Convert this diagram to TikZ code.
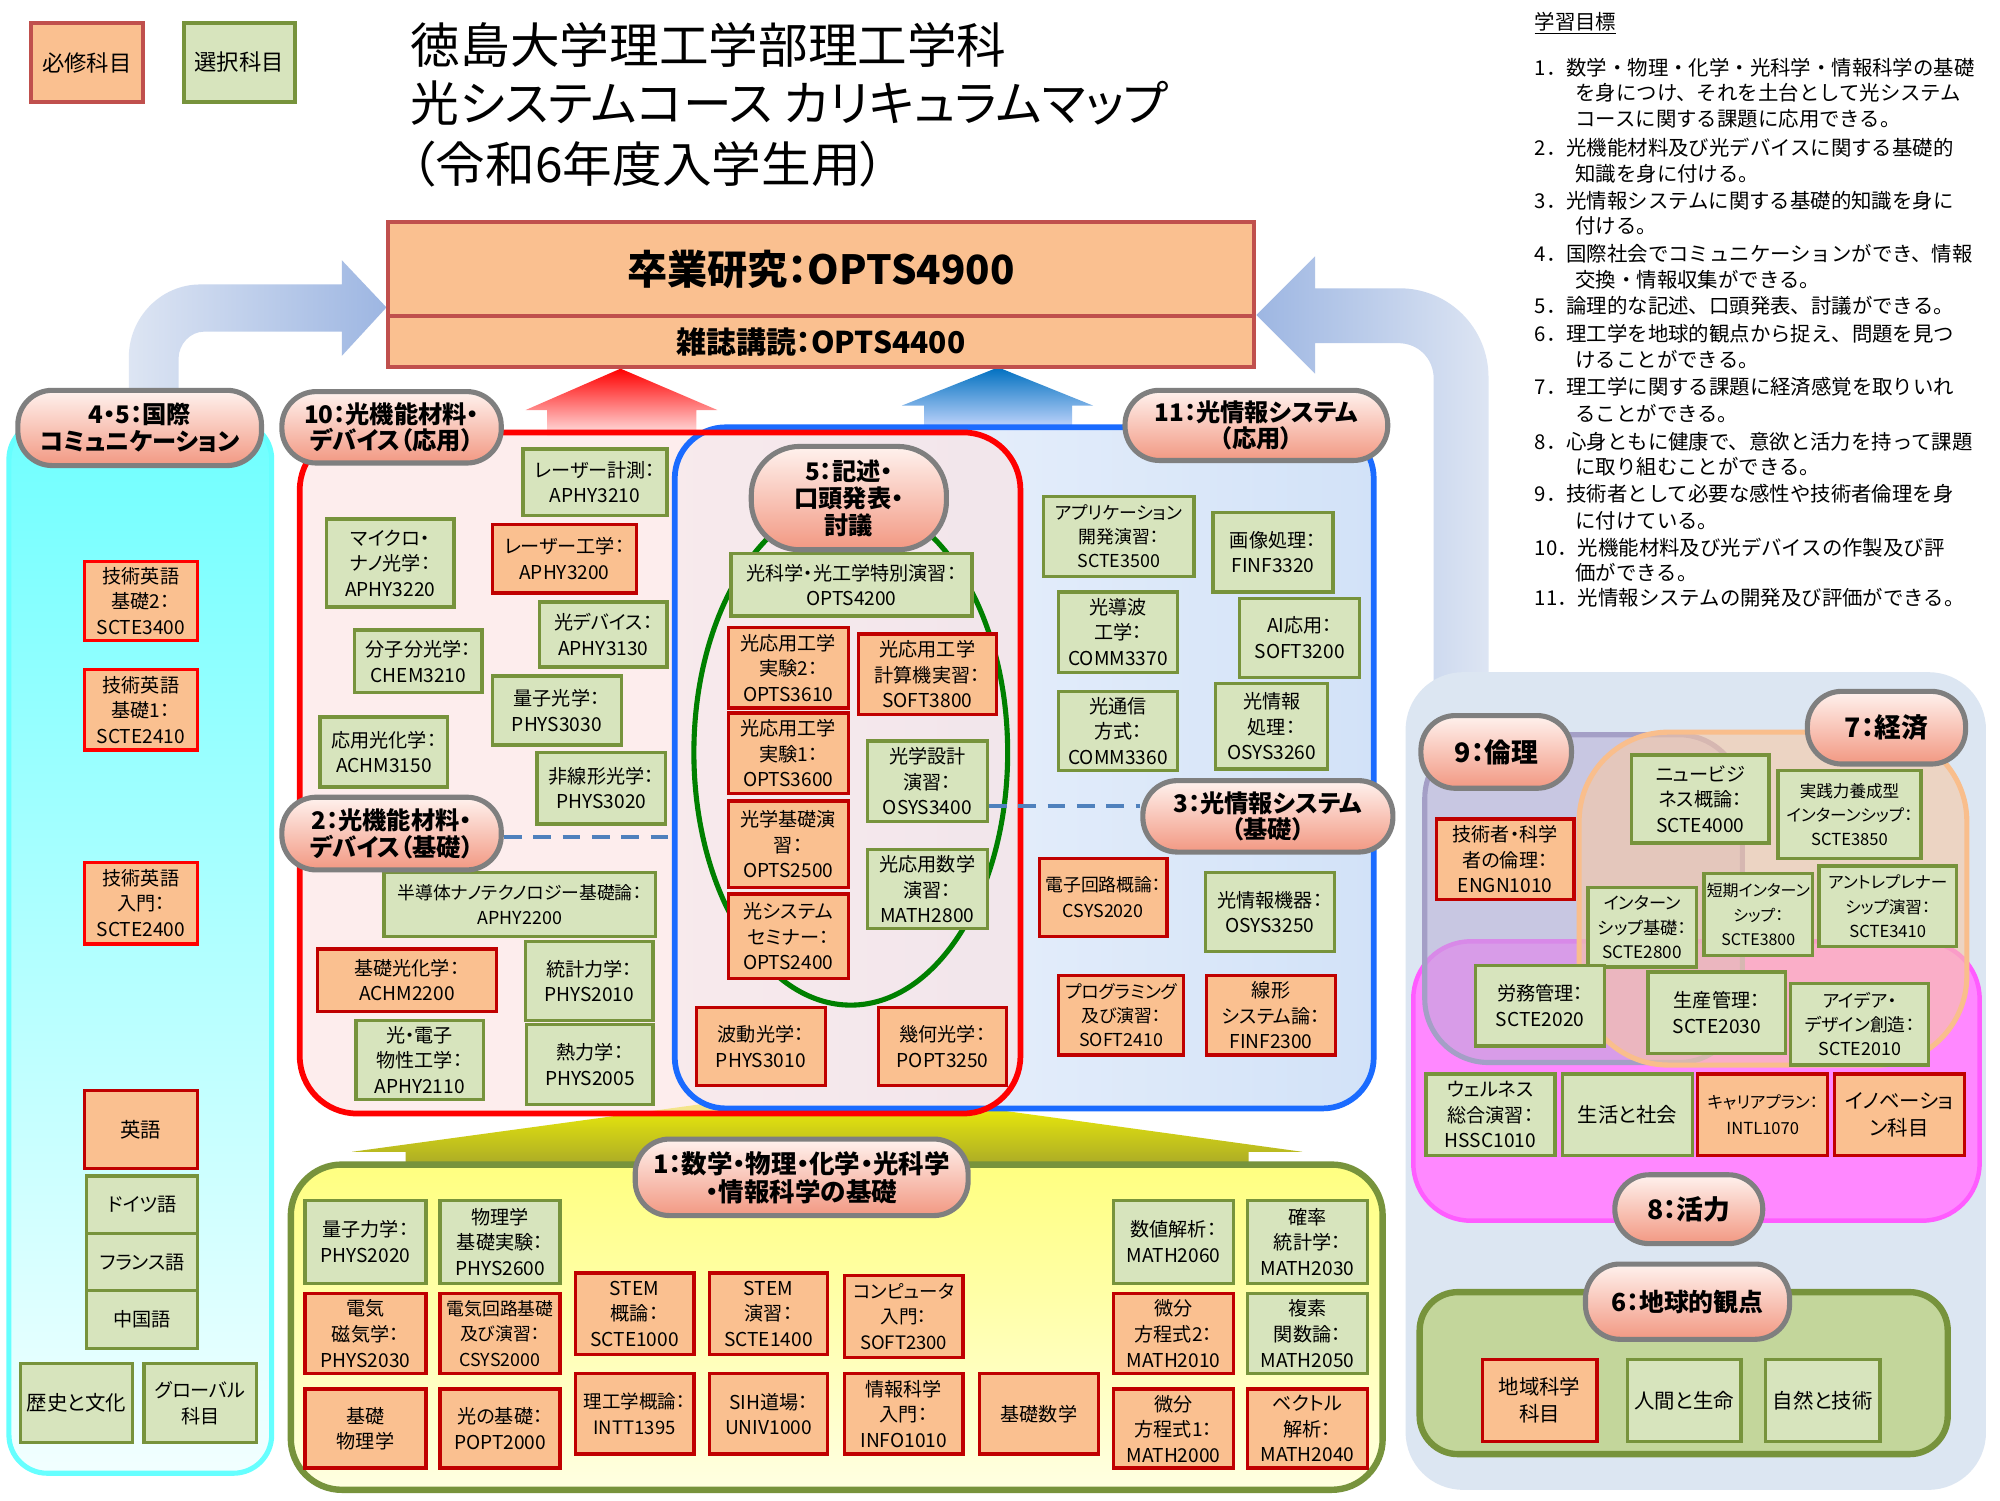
\documentclass[tikz,border=0pt]{standalone}
\usepackage{fontspec}
\usepackage{graphicx}
\setmainfont{Noto Sans CJK JP}[RawFeature=+palt]
\newfontfamily\gfont{Noto Sans CJK JP}
\newcommand{\fsz}[2]{\fontsize{#1pt}{#2pt}\selectfont}
\definecolor{arrL}{HTML}{DDE5F3}
\definecolor{arrR}{HTML}{9DB6E2}
\definecolor{redlt}{HTML}{FFE6E6}
\definecolor{blueup}{HTML}{0070C0}
\definecolor{bluelt}{HTML}{CCDAFF}
\definecolor{olivey}{HTML}{A4A42A}
\definecolor{grayreg}{HTML}{DCE6F2}
\definecolor{magfill}{HTML}{FF88FF}
\definecolor{magbd}{HTML}{FF5CFF}
\definecolor{purfill}{HTML}{B9AED6}
\definecolor{purbd}{HTML}{A49FC6}
\definecolor{orfill}{HTML}{F8C8A4}
\definecolor{orbd}{HTML}{F9BE8C}
\definecolor{gsixfill}{HTML}{C3D69B}
\definecolor{cyanbd}{HTML}{66FFFF}
\definecolor{cyantop}{HTML}{70FFFF}
\definecolor{cyanbot}{HTML}{F2FFFF}
\definecolor{ytop}{HTML}{FFFF80}
\definecolor{ybot}{HTML}{FFFFE2}
\definecolor{bluebd}{HTML}{1A6BFF}
\definecolor{blueL}{HTML}{F2F6FC}
\definecolor{blueR}{HTML}{D2E2F8}
\definecolor{redfill}{HTML}{FCE2E2}
\definecolor{ellgreen}{HTML}{008000}
\definecolor{pillbd}{HTML}{7F7F7F}
\definecolor{pilltop}{HTML}{FFF2EE}
\definecolor{pillbot}{HTML}{F29882}
\definecolor{reqfill}{HTML}{FAC090}
\definecolor{reqdr}{HTML}{C00000}
\definecolor{legbd}{HTML}{C0504D}
\definecolor{optfill}{HTML}{D7E4BD}
\definecolor{optbd}{HTML}{77933C}
\definecolor{dashc}{HTML}{4F81BD}
\tikzset{
  cReq/.style={draw=reqdr, fill=reqfill, line width=2.6pt, align=center, inner sep=0pt, font=\fsz{15}{20}},
  cReqB/.style={cReq, draw=red},
  cOpt/.style={draw=optbd, fill=optfill, line width=2.6pt, align=center, inner sep=0pt, font=\fsz{15}{20}},
  cPill/.style={draw=pillbd, line width=4pt, rounded corners=27pt, top color=pilltop, bottom color=pillbot, align=center, inner sep=0pt, font=\bfseries\fsz{19}{21}},
  cTop/.style={draw=legbd, fill=reqfill, line width=3pt, inner sep=0pt},
  cLegR/.style={draw=legbd, fill=reqfill, line width=3pt, inner sep=0pt, font=\fsz{17.5}{20}},
  cLegO/.style={draw=optbd, fill=optfill, line width=3pt, inner sep=0pt, font=\fsz{17.5}{20}},
  cGoal/.style={anchor=west, inner sep=0pt, font=\gfont\fsz{16}{20}},
  cDash/.style={draw=dashc, line width=3pt, dash pattern=on 14pt off 9pt}
}
\newcommand{\cbx}[7]{\node[#6, minimum width={(#4)-(#2)}, minimum height={(#5)-(#3)}] (#1) at ({((#2)+(#4))/2},{((#3)+(#5))/2}) {#7};}
\newcommand{\gl}[4]{\node[cGoal] (#1) at (#2,#3) {#4};}
\begin{document}
\begin{tikzpicture}[x=1pt,y=-1pt]
\useasboundingbox (0,0) rectangle (1568,1176);
\fill[white] (0,0) rectangle (1568,1176);

% curved arrows
\shade[left color=arrL, right color=arrR] (101,320) -- (101,280) .. controls (101,249) and (126,223) .. (157,223) -- (268,223) -- (268,204) -- (303,241) -- (268,279) -- (268,260) -- (160,260) .. controls (149,260) and (140,270) .. (140,281) -- (140,320) -- cycle;
\shade[left color=arrR, right color=arrL] (985,247) -- (1031,201) -- (1031,226) -- (1097,226) .. controls (1136,226) and (1167,257) .. (1167,296) -- (1167,540) -- (1124,540) -- (1124,297) .. controls (1124,281) and (1112,269) .. (1096,269) -- (1031,269) -- (1031,293) -- cycle;

% up arrows
\shade[top color=red, bottom color=redlt] (486.5,289) -- (562.5,321.5) -- (546,321.5) -- (546,342) -- (429,342) -- (429,321.5) -- (412,321.5) -- cycle;
\shade[top color=blueup, bottom color=bluelt] (782.5,288) -- (857,318) -- (840.5,318) -- (840.5,338) -- (724.5,338) -- (724.5,318) -- (707,318) -- cycle;
\shade[top color=yellow, bottom color=olivey] (650,852) -- (1021,903) -- (979,903) -- (979,918) -- (318,918) -- (318,903) -- (276,903) -- cycle;

% right region
\fill[grayreg, rounded corners=45pt] (1102,527) rectangle (1557,1168);
\draw[draw=magbd, line width=3.5pt, fill=magfill, rounded corners=45pt] (1108,738) rectangle (1552,957);
\draw[draw=purbd, line width=4pt, fill=purfill, fill opacity=0.55, rounded corners=50pt] (1117,576) rectangle (1366,833);
\draw[draw=orbd, line width=4pt, fill=orfill, fill opacity=0.6, rounded corners=70pt] (1238,574) rectangle (1542,835);
\draw[draw=optbd, line width=5pt, fill=gsixfill, rounded corners=30pt] (1113,1013) rectangle (1527,1140);

% cyan column
\draw[draw=cyanbd, line width=4pt, top color=cyantop, bottom color=cyanbot, rounded corners=30pt] (7,330) rectangle (213,1155);

% yellow region
\draw[draw=optbd, line width=5pt, top color=ytop, bottom color=ybot, rounded corners=40pt] (228,913) rectangle (1084,1168);

% blue and red regions
\shade[left color=blueL, right color=blueR, rounded corners=40pt] (529,335) rectangle (1077,869);
\fill[redfill, fill opacity=0.6, rounded corners=45pt] (235,339) rectangle (800,873);
\draw[draw=bluebd, line width=4.5pt, rounded corners=40pt] (529,335) rectangle (1077,869);
\draw[draw=red, line width=4.5pt, rounded corners=45pt] (235,339) rectangle (800,873);
\draw[draw=ellgreen, line width=4pt] (667,590) ellipse [x radius=123, y radius=198];

% legend
\cbx{legreq}{24}{18}{112}{80}{cLegR}{必修科目}
\cbx{legopt}{144}{18}{231}{80}{cLegO}{選択科目}

% title
\node[anchor=west, inner sep=0pt] (t1) at (322,35) {\resizebox{467pt}{\height}{\fsz{38}{40}徳島大学理工学部理工学科}};
\node[anchor=west, inner sep=0pt] (t2) at (322,81) {\resizebox{594pt}{\height}{\fsz{38}{40}光システムコース カリキュラムマップ}};
\node[anchor=west, inner sep=0pt] (t3) at (322,129) {\resizebox{372pt}{\height}{\fsz{38}{40}（令和6年度入学生用）}};

% goals
\node[anchor=west, inner sep=0pt, font=\gfont\fsz{16}{18}] (gh) at (1203,18) {\underline{学習目標}};
\gl{g1}{1203}{53}{1．数学・物理・化学・光科学・情報科学の基礎}
\gl{g2}{1235}{73}{を身につけ、それを土台として光システム}
\gl{g3}{1235}{93}{コースに関する課題に応用できる。}
\gl{g4}{1203}{116}{2．光機能材料及び光デバイスに関する基礎的}
\gl{g5}{1235}{136}{知識を身に付ける。}
\gl{g6}{1203}{157}{3．光情報システムに関する基礎的知識を身に}
\gl{g7}{1235}{177}{付ける。}
\gl{g8}{1203}{199}{4．国際社会でコミュニケーションができ、情報}
\gl{g9}{1235}{219}{交換・情報収集ができる。}
\gl{g10}{1203}{240}{5．論理的な記述、口頭発表、討議ができる。}
\gl{g11}{1203}{262}{6．理工学を地球的観点から捉え、問題を見つ}
\gl{g12}{1235}{282}{けることができる。}
\gl{g13}{1203}{303}{7．理工学に関する課題に経済感覚を取りいれ}
\gl{g14}{1235}{324}{ることができる。}
\gl{g15}{1203}{346}{8．心身ともに健康で、意欲と活力を持って課題}
\gl{g16}{1235}{366}{に取り組むことができる。}
\gl{g17}{1203}{387}{9．技術者として必要な感性や技術者倫理を身}
\gl{g18}{1235}{408}{に付けている。}
\gl{g19}{1203}{429}{10．光機能材料及び光デバイスの作製及び評}
\gl{g20}{1235}{449}{価ができる。}
\gl{g21}{1203}{469}{11．光情報システムの開発及び評価ができる。}

% top boxes
\cbx{thesis}{304}{174}{983}{248}{cTop, font=\bfseries\fsz{31.5}{34}}{卒業研究：OPTS4900}
\cbx{journal}{304}{248}{983}{288}{cTop, font=\bfseries\fsz{23.5}{26}}{雑誌講読：OPTS4400}

\coordinate (dL) at (529,656);
\coordinate (dR) at (775,632);

% left column
\cbx{te2}{66}{440}{155}{502}{cReqB}{技術英語\\基礎2：\\SCTE3400}
\cbx{te1}{66}{525}{155}{588}{cReqB}{技術英語\\基礎1：\\SCTE2410}
\cbx{te0}{66}{676}{155}{740}{cReqB}{技術英語\\入門：\\SCTE2400}
\cbx{eng}{66}{855}{155}{916}{cReq, font=\fsz{16}{20}}{英語}
\cbx{ger}{68}{922}{155}{967}{cOpt}{ドイツ語}
\cbx{fra}{68}{967}{155}{1012}{cOpt}{フランス語}
\cbx{chn}{68}{1012}{155}{1057}{cOpt}{中国語}
\cbx{his}{16}{1069}{104}{1131}{cOpt, font=\fsz{16}{20}}{歴史と文化}
\cbx{glo}{113}{1069}{201}{1131}{cOpt}{グローバル\\科目}

% region 10 / 2
\cbx{aphy3210}{410}{352}{523}{404}{cOpt}{レーザー計測：\\APHY3210}
\cbx{aphy3220}{256}{407}{356}{476}{cOpt}{マイクロ・\\ナノ光学：\\APHY3220}
\cbx{aphy3200}{386}{411}{499}{465}{cReq}{レーザー工学：\\APHY3200}
\cbx{aphy3130}{423}{472}{523}{523}{cOpt}{光デバイス：\\APHY3130}
\cbx{chem3210}{278}{494}{378}{543}{cOpt}{分子分光学：\\CHEM3210}
\cbx{phys3030}{386}{530}{487}{584}{cOpt}{量子光学：\\PHYS3030}
\cbx{achm3150}{251}{562}{351}{617}{cOpt}{応用光化学：\\ACHM3150}
\cbx{phys3020}{421}{590}{522}{646}{cOpt}{非線形光学：\\PHYS3020}
\cbx{aphy2200}{301}{684}{514}{734}{cOpt, font=\fsz{14}{20}}{半導体ナノテクノロジー基礎論：\\APHY2200}
\cbx{achm2200}{249}{744}{389}{793}{cReq}{基礎光化学：\\ACHM2200}
\cbx{phys2010}{412}{738}{512}{800}{cOpt}{統計力学：\\PHYS2010}
\cbx{aphy2110}{279}{800}{379}{862}{cOpt}{光・電子\\物性工学：\\APHY2110}
\cbx{phys2005}{413}{803}{512}{866}{cOpt}{熱力学：\\PHYS2005}

% region 5
\cbx{opts4200}{573}{434}{762}{483}{cOpt}{光科学・光工学特別演習：\\OPTS4200}
\cbx{opts3610}{571}{492}{665}{555}{cReq}{光応用工学\\実験2：\\OPTS3610}
\cbx{soft3800}{673}{497}{781}{560}{cReq}{光応用工学\\計算機実習：\\SOFT3800}
\cbx{opts3600}{571}{559}{665}{622}{cReq}{光応用工学\\実験1：\\OPTS3600}
\cbx{osys3400}{680}{581}{774}{644}{cOpt}{光学設計\\演習：\\OSYS3400}
\cbx{opts2500}{571}{628}{665}{696}{cReq}{光学基礎演\\習：\\OPTS2500}
\cbx{math2800}{680}{666}{774}{728}{cOpt}{光応用数学\\演習：\\MATH2800}
\cbx{opts2400}{571}{701}{665}{767}{cReq}{光システム\\セミナー：\\OPTS2400}
\cbx{phys3010}{546}{790}{647}{851}{cReq}{波動光学：\\PHYS3010}
\cbx{popt3250}{689}{790}{789}{851}{cReq}{幾何光学：\\POPT3250}

% region 11 / 3
\cbx{scte3500}{818}{389}{936}{452}{cOpt, font=\fsz{14}{19}}{アプリケーション\\開発演習：\\SCTE3500}
\cbx{finf3320}{951}{402}{1045}{464}{cOpt}{画像処理：\\FINF3320}
\cbx{comm3370}{830}{464}{923}{527}{cOpt}{光導波\\工学：\\COMM3370}
\cbx{soft3200}{972}{469}{1066}{531}{cOpt}{AI応用：\\SOFT3200}
\cbx{comm3360}{830}{542}{923}{604}{cOpt}{光通信\\方式：\\COMM3360}
\cbx{osys3260}{953}{536}{1041}{603}{cOpt}{光情報\\処理：\\OSYS3260}
\cbx{csys2020}{815}{673}{915}{734}{cReq, font=\fsz{14}{20}}{電子回路概論：\\CSYS2020}
\cbx{osys3250}{945}{684}{1046}{746}{cOpt}{光情報機器：\\OSYS3250}
\cbx{soft2410}{830}{765}{928}{827}{cReq, font=\fsz{14}{19}}{プログラミング\\及び演習：\\SOFT2410}
\cbx{finf2300}{946}{765}{1047}{827}{cReq}{線形\\システム論：\\FINF2300}

% bottom region
\cbx{phys2020}{239}{941}{334}{1006}{cOpt}{量子力学：\\PHYS2020}
\cbx{phys2600}{345}{941}{439}{1006}{cOpt}{物理学\\基礎実験：\\PHYS2600}
\cbx{phys2030}{239}{1014}{334}{1077}{cReq}{電気\\磁気学：\\PHYS2030}
\cbx{csys2000}{345}{1014}{439}{1077}{cReq, font=\fsz{14}{20}}{電気回路基礎\\及び演習：\\CSYS2000}
\cbx{scte1000}{451}{998}{544}{1062}{cReq}{STEM\\概論：\\SCTE1000}
\cbx{scte1400}{556}{998}{649}{1062}{cReq}{STEM\\演習：\\SCTE1400}
\cbx{soft2300}{662}{1000}{755}{1064}{cReq, font=\fsz{14.5}{20}}{コンピュータ\\入門：\\SOFT2300}
\cbx{kisobutsuri}{239}{1089}{334}{1151}{cReq}{基礎\\物理学}
\cbx{popt2000}{345}{1089}{439}{1151}{cReq}{光の基礎：\\POPT2000}
\cbx{intt1395}{451}{1077}{544}{1140}{cReq, font=\fsz{14.5}{20}}{理工学概論：\\INTT1395}
\cbx{univ1000}{556}{1077}{649}{1140}{cReq}{SIH道場：\\UNIV1000}
\cbx{info1010}{662}{1077}{755}{1140}{cReq}{情報科学\\入門：\\INFO1010}
\cbx{kisosugaku}{768}{1077}{861}{1140}{cReq}{基礎数学}
\cbx{math2060}{873}{941}{967}{1006}{cOpt}{数値解析：\\MATH2060}
\cbx{math2030}{978}{941}{1072}{1006}{cOpt}{確率\\統計学：\\MATH2030}
\cbx{math2010}{873}{1014}{967}{1077}{cReq}{微分\\方程式2：\\MATH2010}
\cbx{math2050}{978}{1014}{1072}{1077}{cOpt}{複素\\関数論：\\MATH2050}
\cbx{math2000}{873}{1089}{967}{1151}{cReq}{微分\\方程式1：\\MATH2000}
\cbx{math2040}{978}{1089}{1072}{1151}{cReq}{ベクトル\\解析：\\MATH2040}

% right region boxes
\cbx{engn1010}{1126}{642}{1234}{705}{cReq}{技術者・科学\\者の倫理：\\ENGN1010}
\cbx{scte4000}{1279}{592}{1387}{661}{cOpt}{ニュービジ\\ネス概論：\\SCTE4000}
\cbx{scte3850}{1394}{604}{1506}{673}{cOpt, font=\fsz{13}{19}}{実践力養成型\\インターンシップ：\\SCTE3850}
\cbx{scte2800}{1245}{696}{1330}{758}{cOpt, font=\fsz{13.5}{19}}{インターン\\シップ基礎：\\SCTE2800}
\cbx{scte3800}{1336}{685}{1421}{749}{cOpt, font=\fsz{12.5}{19}}{短期インターン\\シップ：\\SCTE3800}
\cbx{scte3410}{1426}{679}{1534}{742}{cOpt, font=\fsz{13}{19}}{アントレプレナー\\シップ演習：\\SCTE3410}
\cbx{scte2020}{1157}{757}{1258}{820}{cOpt}{労務管理：\\SCTE2020}
\cbx{scte2030}{1292}{762}{1400}{826}{cOpt}{生産管理：\\SCTE2030}
\cbx{scte2010}{1404}{771}{1512}{835}{cOpt, font=\fsz{14}{19}}{アイデア・\\デザイン創造：\\SCTE2010}
\cbx{hssc1010}{1118}{842}{1219}{906}{cOpt}{ウェルネス\\総合演習：\\HSSC1010}
\cbx{seikatsu}{1225}{842}{1327}{906}{cOpt, font=\fsz{16}{20}}{生活と社会}
\cbx{intl1070}{1331}{842}{1433}{906}{cReq, font=\fsz{13}{20}}{キャリアプラン：\\INTL1070}
\cbx{innov}{1438}{842}{1540}{906}{cReq, font=\fsz{16}{21}}{イノベーショ\\ン科目}
\cbx{chiiki}{1162}{1066}{1252}{1130}{cReq, font=\fsz{16}{21}}{地域科学\\科目}
\cbx{ningen}{1276}{1066}{1365}{1130}{cOpt, font=\fsz{16}{20}}{人間と生命}
\cbx{shizen}{1384}{1066}{1474}{1130}{cOpt, font=\fsz{16}{20}}{自然と技術}

% pills
\cbx{p45}{14}{306}{205}{365}{cPill}{4・5：国際\\コミュニケーション}
\cbx{p10}{221}{307}{393}{363}{cPill}{10：光機能材料・\\デバイス（応用）}
\cbx{p2}{221}{625}{393}{682}{cPill}{2：光機能材料・\\デバイス（基礎）}
\cbx{p5}{589}{350}{742}{431}{cPill, rounded corners=38pt}{5：記述・\\口頭発表・\\討議}
\cbx{p11}{882}{306}{1088}{361}{cPill}{11：光情報システム\\（応用）}
\cbx{p3}{896}{612}{1092}{668}{cPill}{3：光情報システム\\（基礎）}
\cbx{p1}{498}{893}{759}{953}{cPill, font=\bfseries\fsz{20}{22}}{1：数学・物理・化学・光科学\\・情報科学の基礎}
\cbx{p9}{1114}{561}{1232}{618}{cPill, font=\bfseries\fsz{21}{23}}{9：倫理}
\cbx{p7}{1417}{542}{1541}{599}{cPill, font=\bfseries\fsz{21}{23}}{7：経済}
\cbx{p8}{1266}{921}{1382}{975}{cPill, font=\bfseries\fsz{21}{23}}{8：活力}
\cbx{p6}{1243}{991}{1403}{1050}{cPill, font=\bfseries\fsz{19.5}{22}}{6：地球的観点}

% dashed connectors
\draw[cDash] (p2.east |- dL) -- (dL);
\draw[cDash] (osys3400.east |- dR) -- (p3.west |- dR);
\end{tikzpicture}
\end{document}
